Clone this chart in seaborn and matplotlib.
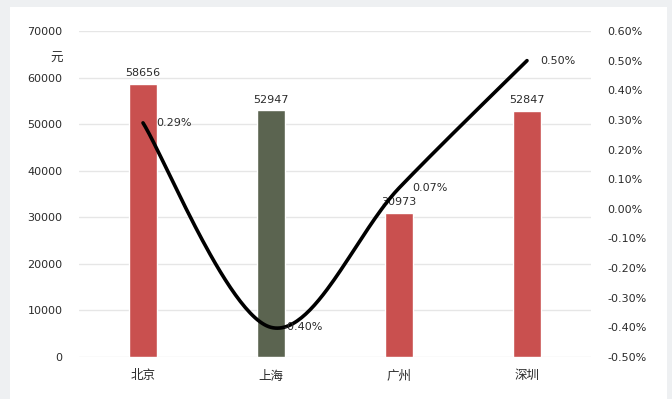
import numpy as np
import pandas as pd
import matplotlib
matplotlib.use("Agg")
import matplotlib.pyplot as plt
import seaborn as sns
from matplotlib.patches import Rectangle

cities = ["北京", "上海", "广州", "深圳"]
income = [58656, 52947, 30973, 52847]
growth = [0.29, -0.40, 0.07, 0.50]   # percent
bar_colors = ["#c9504f", "#5b6450", "#c9504f", "#c9504f"]
left_ticks = [0, 10000, 20000, 30000, 40000, 50000, 60000, 70000]
right_ticks = [-0.5, -0.4, -0.3, -0.2, -0.1, 0.0, 0.1, 0.2, 0.3, 0.4, 0.5, 0.6]

sns.set_theme(style="white")
plt.rcParams['font.family'] = ['DejaVu Sans', 'Noto Sans CJK SC']

TXT = "#2b2b2b"
FS = 8

fig = plt.figure(figsize=(6.72, 3.99), dpi=100)
fig.patch.set_facecolor("#eef0f2")
fig.patches.append(Rectangle((10/672, 0), (667-10)/672, (399-7)/399,
                             transform=fig.transFigure, facecolor="white",
                             edgecolor="none", zorder=-10))

ax = fig.add_axes([79/672, 1-357/399, (591-79)/672, (357-31)/399])
ax.set_facecolor("none")
df = pd.DataFrame({"city": cities, "income": income})
sns.barplot(data=df, x="city", y="income", hue="city", palette=bar_colors,
            width=0.22, legend=False, ax=ax, saturation=1)
ax.set_ylim(0, 70000)
ax.set_yticks(left_ticks)
ax.set_yticklabels([str(v) for v in left_ticks], fontsize=FS, color=TXT)
ax.set_xlabel("")
ax.set_ylabel("")
ax.tick_params(axis="x", labelsize=9, colors=TXT, length=0, pad=9)
ax.tick_params(axis="y", length=0, pad=12)
for s in ax.spines.values():
    s.set_visible(False)
ax.grid(axis="y", color="#e6e6e6", linewidth=1)
ax.set_axisbelow(True)
for i, v in enumerate(income):
    ax.text(i, v + 1200, str(v), ha="center", va="bottom", fontsize=FS, color=TXT)
fig.text(63/672, 1-58/399, "元", ha="right", va="center", fontsize=9, color=TXT)

# smoothed (Bezier, Excel-like) line on secondary axis
ax2 = ax.twinx()
xs = np.arange(len(growth), dtype=float)
ys = np.array(growth, dtype=float)
P = np.column_stack([xs, ys])
Pe = np.vstack([P[0], P, P[-1]])
curve = []
t = np.linspace(0, 1, 60)
for k in range(len(P) - 1):
    p0, p1, p2, p3 = Pe[k], Pe[k+1], Pe[k+2], Pe[k+3]
    c1 = p1 + (p2 - p0) / 6
    c2 = p2 - (p3 - p1) / 6
    seg = ((1-t)**3)[:, None]*p1 + (3*(1-t)**2*t)[:, None]*c1 + (3*(1-t)*t**2)[:, None]*c2 + (t**3)[:, None]*p2
    curve.append(seg if k == 0 else seg[1:])
curve = np.vstack(curve)
cdf = pd.DataFrame({"x": curve[:, 0], "y": curve[:, 1]})
sns.lineplot(data=cdf, x="x", y="y", sort=False, color="black", linewidth=2.6, ax=ax2)
ax2.set_ylim(-0.5, 0.6)
ax2.set_yticks(right_ticks)
ax2.set_yticklabels([f"{v:.2f}%" for v in right_ticks], fontsize=FS, color=TXT)
ax2.tick_params(axis="y", length=0, pad=12)
ax2.set_ylabel("")
ax2.set_xlabel("")
for s in ax2.spines.values():
    s.set_visible(False)
ax2.grid(False)
for i, g in enumerate(growth):
    ax2.text(i + 0.1, g, f"{g:.2f}%", ha="left", va="center", fontsize=FS, color=TXT)
ax.set_xlim(-0.5, 3.5)

fig.savefig("out.png", dpi=100, facecolor=fig.get_facecolor())
